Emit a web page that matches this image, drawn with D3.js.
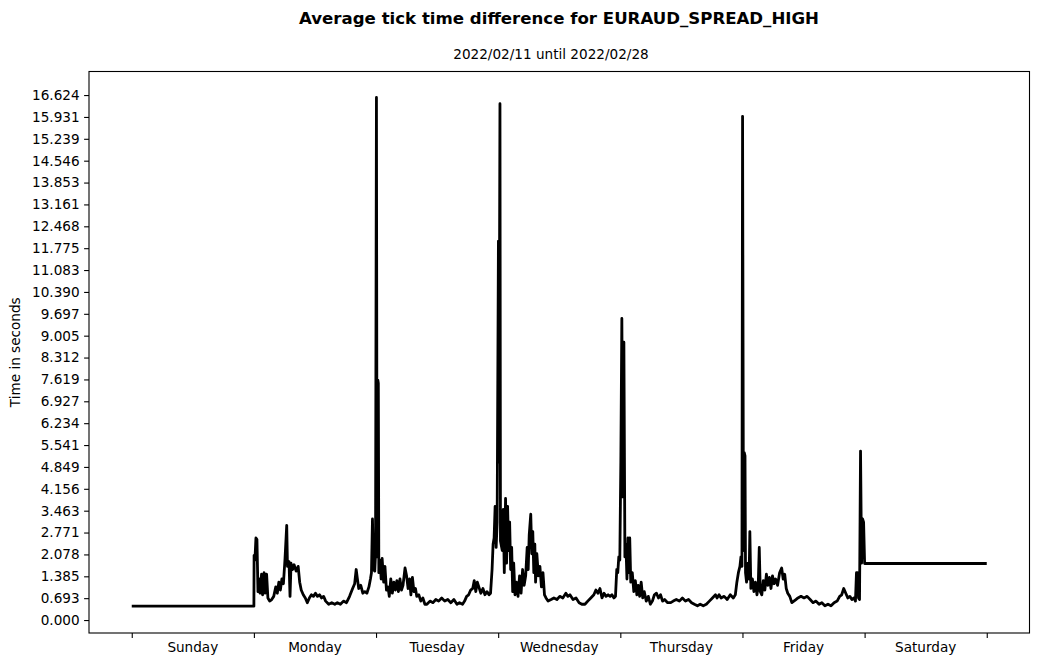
<!DOCTYPE html>
<html>
<head>
<meta charset="utf-8">
<script src="https://cdn.jsdelivr.net/npm/d3@7"></script>
<style>
  html, body { margin: 0; padding: 0; background: #fff; }
  svg { display: block; }
  text { font-family: "DejaVu Sans", sans-serif; fill: #000; }
</style>
</head>
<body>
<svg id="chart" width="1039" height="664"></svg>
<script>
// ---------- DATA ----------
const title = "Average tick time difference for EURAUD_SPREAD_HIGH";
const subtitle = "2022/02/11 until 2022/02/28";
const yLabel = "Time in seconds";
const dayNames = ["Sunday", "Monday", "Tuesday", "Wednesday", "Thursday", "Friday", "Saturday"];
const dayTicks = [0, 24, 48, 72, 96, 120, 144, 168]; // hours since Sunday 00:00
const yTickValues = [0.000, 0.693, 1.385, 2.078, 2.771, 3.463, 4.156, 4.849, 5.541, 6.234, 6.927, 7.619, 8.312,
  9.005, 9.697, 10.390, 11.083, 11.775, 12.468, 13.161, 13.853, 14.546, 15.239, 15.931, 16.624];
const yTickLabels = ["0.000", "0.693", "1.385", "2.078", "2.771", "3.463", "4.156", "4.849", "5.541", "6.234",
  "6.927", "7.619", "8.312", "9.005", "9.697", "10.390", "11.083", "11.775", "12.468", "13.161", "13.853",
  "14.546", "15.239", "15.931", "16.624"];

// hours since Sunday 00:00
const hours = [
  0, 24.0,
  24.04, 24.2, 24.4, 24.6, 24.8, 25.0, 25.2, 25.5, 25.7, 26.0, 26.2, 26.5, 26.75, 27.1, 27.5, 27.9, 28.3, 28.6,
  28.9, 29.2, 29.5, 29.8, 30.1, 30.45, 30.6, 30.9, 31.1, 31.3, 31.6, 31.9, 32.3, 32.7, 33.0, 33.3, 33.7, 34.1,
  34.5, 34.9, 35.3, 35.7, 36.1, 36.5, 36.9, 37.3, 37.7, 38.1, 38.7, 39.3, 39.9, 40.4, 41.0, 41.6, 42.2, 42.8,
  43.4, 43.8, 44.1, 44.3, 44.6, 45.0, 45.4, 45.8, 46.2, 46.6, 46.9, 47.1, 47.3, 47.5, 47.75, 47.9,
  48.08, 48.2, 48.35, 48.45, 48.55,
  48.8, 49.0, 49.2, 49.5, 49.75, 50.05, 50.35, 50.6, 50.9, 51.2, 51.5, 51.8, 52.1, 52.4, 52.7, 53.0, 53.3,
  53.7, 54.0, 54.3, 54.6, 54.85, 55.15, 55.45, 55.75, 56.0, 56.4, 56.8, 57.2, 57.6, 58.0, 58.6, 59.2, 59.75,
  60.3, 60.9, 61.5, 62.1, 62.7, 63.3, 63.9, 64.4, 65.0, 65.4, 65.8, 66.2, 66.6, 67.0, 67.3, 67.6, 67.9, 68.2,
  68.6, 69.0, 69.4, 69.8, 70.2, 70.5, 70.8, 71.0, 71.2, 71.4, 71.6, 71.8,
  72.05, 72.15, 72.35, 72.45,
  72.8, 73.0, 73.2, 73.45, 73.65, 73.85, 74.05, 74.25, 74.45, 74.65, 74.85, 75.05, 75.3, 75.6, 75.9, 76.2,
  76.5, 76.8, 77.1, 77.4, 77.7, 77.9, 78.1, 78.4, 78.6, 78.8, 79.0, 79.2, 79.35, 79.6, 79.9, 80.2, 80.5, 80.8,
  81.1, 81.4, 81.8, 82.4, 82.95, 83.55, 84.1, 84.7, 85.3, 85.7, 86.1, 86.7, 87.3, 87.9, 88.45, 89.05, 89.6,
  90.2, 90.8, 91.2, 91.6, 92.0, 92.4, 92.8, 93.2, 93.6, 94.0, 94.35, 94.75, 95.05, 95.3, 95.5, 95.7, 95.9,
  96.1, 96.3, 96.5, 96.7, 96.9,
  97.1, 97.3, 97.5, 97.65, 97.85, 98.05, 98.35, 98.65, 98.95, 99.25, 99.5, 99.8, 100.1, 100.4, 100.7, 101.1,
  101.5, 101.9, 102.3, 102.7, 103.1, 103.5, 103.9, 104.3, 104.7, 105.3, 105.9, 106.4, 107.0, 107.6, 108.2,
  108.8, 109.4, 110.0, 110.55, 111.15, 111.7, 112.3, 112.9, 113.5, 114.1, 114.7, 115.0, 115.4, 115.8, 116.4,
  117.0, 117.6, 118.2, 118.6, 118.9, 119.2, 119.5, 119.7, 119.9,
  120.02, 120.2, 120.35, 120.5, 120.6,
  120.8, 121.1, 121.3, 121.45, 121.65, 121.95, 122.25, 122.55, 122.85, 123.1, 123.3, 123.5, 123.8, 124.1,
  124.4, 124.7, 125.0, 125.3, 125.6, 125.9, 126.2, 126.5, 126.9, 127.3, 127.7, 128.0, 128.3, 128.6, 128.9,
  129.3, 129.7, 130.1, 130.5, 130.9, 131.5, 132.1, 132.7, 133.3, 133.85, 134.45, 135.05, 135.6, 136.2, 136.8,
  137.4, 138.0, 138.6, 139.1, 139.5, 139.9, 140.3, 140.7, 141.1, 141.5, 141.9, 142.2, 142.4, 142.6, 142.8,
  143.0, 143.2, 143.4, 143.6, 143.8, 144.0,
  168.0
];
// average tick time difference in seconds
const values = [
  0.44, 0.44,
  2.05, 1.9, 2.6, 2.55, 0.9, 1.3, 0.85, 1.45, 0.8, 1.5, 0.85, 1.45, 0.7, 0.6, 0.65, 0.75, 1.05, 0.85,
  1.2, 0.95, 1.3, 1.15, 1.9, 3.0, 1.7, 1.85, 0.75, 1.8, 1.6, 1.75, 1.55, 1.7, 1.2, 0.95, 0.8, 0.7,
  0.55, 0.7, 0.8, 0.75, 0.85, 0.75, 0.8, 0.7, 0.75, 0.6, 0.5, 0.55, 0.5, 0.55, 0.5, 0.6, 0.55, 0.75,
  1.0, 1.15, 1.6, 1.35, 1.0, 1.1, 0.85, 0.9, 0.85, 1.05, 1.3, 1.5, 3.2, 1.6, 1.55, 2.1,
  16.55, 2.0, 7.6, 7.5, 1.5,
  1.9, 1.3, 1.95, 1.2, 1.7, 0.95, 1.05, 0.75, 1.3, 0.85, 1.2, 0.95, 1.25, 0.9, 1.3, 0.95, 1.1,
  1.65, 1.4, 1.0, 1.3, 0.8, 1.35, 0.9, 1.0, 0.75, 0.8, 0.6, 0.7, 0.5, 0.5, 0.6, 0.55, 0.65,
  0.6, 0.7, 0.6, 0.65, 0.55, 0.65, 0.5, 0.55, 0.5, 0.6, 0.75, 0.8, 0.95, 1.0, 1.25, 0.9, 1.2, 1.05,
  0.85, 1.0, 0.8, 0.9, 0.8, 0.85, 1.6, 2.4, 2.6, 3.6, 2.3, 3.1,
  12.0, 5.0, 16.35, 2.5,
  2.2, 3.5, 1.5, 3.85, 1.8, 3.6, 2.2, 3.1, 1.6, 2.3, 0.9, 1.8, 0.8, 1.2, 0.75, 1.4,
  0.85, 1.6, 1.1, 1.4, 2.3, 1.6, 2.7, 3.35, 2.1, 2.8, 1.5, 2.4, 1.2, 2.1, 1.4, 1.7, 1.05, 1.5,
  0.8, 0.7, 0.6, 0.65, 0.7, 0.65, 0.75, 0.7, 0.85, 0.75, 0.8, 0.65, 0.7, 0.55, 0.5, 0.5, 0.6,
  0.7, 0.8, 0.95, 0.85, 1.0, 0.7, 0.85, 0.75, 0.8, 0.75, 0.8, 0.7, 0.75, 1.6, 1.5, 2.0, 1.9,
  5.0, 9.55, 3.9, 8.8, 2.0,
  2.4, 1.3, 2.6, 1.5, 2.6, 1.2, 1.5, 0.9, 1.25, 0.8, 1.1, 0.75, 1.2, 0.7, 0.9, 0.6,
  0.75, 0.5, 0.6, 0.8, 0.85, 0.7, 0.8, 0.6, 0.65, 0.55, 0.55, 0.6, 0.65, 0.6, 0.7,
  0.6, 0.65, 0.55, 0.5, 0.45, 0.5, 0.45, 0.5, 0.6, 0.7, 0.8, 0.7, 0.8, 0.7, 0.75,
  0.65, 0.8, 0.7, 0.8, 1.2, 1.5, 1.7, 2.0, 1.7,
  15.95, 2.2, 5.3, 5.2, 1.5,
  1.2, 1.8, 1.3, 2.8, 1.0, 1.3, 0.9, 1.2, 0.8, 1.1, 2.3, 0.9, 0.8, 1.25,
  0.95, 1.45, 1.1, 1.35, 1.0, 1.4, 1.15, 1.3, 1.1, 1.5, 1.65, 1.3, 1.45, 1.0, 0.85,
  0.75, 0.55, 0.6, 0.65, 0.7, 0.75, 0.7, 0.75, 0.65, 0.55, 0.6, 0.5, 0.55, 0.45, 0.5,
  0.45, 0.55, 0.6, 0.75, 0.8, 1.0, 0.85, 0.7, 0.75, 0.65, 0.7, 0.6, 1.5, 1.5, 0.7,
  0.65, 5.35, 1.8, 3.2, 3.1, 1.79,
  1.79
];

// ---------- CHART ----------
const svg = d3.select("#chart");
const m = { left: 89, right: 1029.5, top: 71.5, bottom: 633 };

const x = d3.scaleLinear().domain([-8.4, 176.4]).range([m.left, m.right]);
const y = d3.scaleLinear().domain([-0.41, 17.37]).range([m.bottom, m.top]);

const data = hours.map((h, i) => ({ h, v: values[i] }));

// line
const line = d3.line().x(d => x(d.h)).y(d => y(d.v));
svg.append("path")
  .datum(data)
  .attr("fill", "none")
  .attr("stroke", "#000")
  .attr("stroke-width", 2.8)
  .attr("stroke-linejoin", "round")
  .attr("d", line);

// y axis
const yAxis = d3.axisLeft(y)
  .tickValues(yTickValues)
  .tickFormat((d, i) => yTickLabels[i])
  .tickSize(4.9)
  .tickPadding(4.5);
const gy = svg.append("g").attr("transform", `translate(${m.left},0)`).call(yAxis);
gy.select(".domain").remove();
gy.selectAll("text").style("font-size", "13.6px").style("font-family", "DejaVu Sans");
gy.selectAll("line").attr("stroke-width", 1.1);

// x axis: major ticks at day boundaries, labels at mid-day
const xAxis = d3.axisBottom(x)
  .tickValues(dayTicks)
  .tickFormat("")
  .tickSize(4.9);
const gx = svg.append("g").attr("transform", `translate(0,${m.bottom})`).call(xAxis);
gx.select(".domain").remove();
gx.selectAll("line").attr("stroke-width", 1.1);

svg.append("g").selectAll("text")
  .data(dayNames)
  .join("text")
  .attr("x", (d, i) => x(dayTicks[i] + 12))
  .attr("y", m.bottom + 19)
  .attr("text-anchor", "middle")
  .style("font-size", "13.6px")
  .text(d => d);

// frame
svg.append("rect")
  .attr("x", m.left).attr("y", m.top)
  .attr("width", m.right - m.left).attr("height", m.bottom - m.top)
  .attr("fill", "none").attr("stroke", "#000").attr("stroke-width", 1.1);

// y label
svg.append("text")
  .attr("transform", `translate(20,${(m.top + m.bottom) / 2}) rotate(-90)`)
  .attr("text-anchor", "middle")
  .style("font-size", "13.6px")
  .text(yLabel);

// titles
svg.append("text")
  .attr("x", 559).attr("y", 24)
  .attr("text-anchor", "middle")
  .style("font-size", "16.6px")
  .style("font-weight", "bold")
  .text(title);

svg.append("text")
  .attr("x", 551).attr("y", 59)
  .attr("text-anchor", "middle")
  .style("font-size", "13.6px")
  .text(subtitle);
</script>
</body>
</html>
